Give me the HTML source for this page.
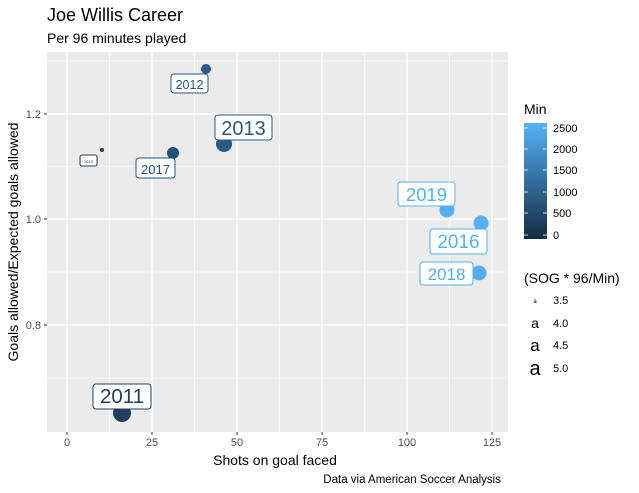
<!DOCTYPE html>
<html><head><style>body{margin:0;background:#fff}svg{display:block}text{font-family:"Liberation Sans",sans-serif}</style></head><body>
<svg width="639" height="493" xmlns="http://www.w3.org/2000/svg">
<rect width="639" height="493" fill="#fff"/>
<text x="47" y="21" font-size="18" fill="#000">Joe Willis Career</text>
<text x="47" y="43" font-size="14" fill="#000">Per 96 minutes played</text>
<rect x="47" y="52" width="461" height="380" fill="#EBEBEB"/>
<g stroke="#fff" stroke-width="0.6">
<line x1="109.5" y1="52" x2="109.5" y2="432"/><line x1="194.5" y1="52" x2="194.5" y2="432"/><line x1="279.5" y1="52" x2="279.5" y2="432"/><line x1="364.5" y1="52" x2="364.5" y2="432"/><line x1="449.5" y1="52" x2="449.5" y2="432"/>
<line x1="47" y1="61" x2="508" y2="61"/><line x1="47" y1="166.5" x2="508" y2="166.5"/><line x1="47" y1="272" x2="508" y2="272"/><line x1="47" y1="378" x2="508" y2="378"/>
</g>
<g stroke="#fff" stroke-width="1.2">
<line x1="67" y1="52" x2="67" y2="432"/><line x1="152" y1="52" x2="152" y2="432"/><line x1="237" y1="52" x2="237" y2="432"/><line x1="322" y1="52" x2="322" y2="432"/><line x1="407" y1="52" x2="407" y2="432"/><line x1="492" y1="52" x2="492" y2="432"/>
<line x1="47" y1="114" x2="508" y2="114"/><line x1="47" y1="219" x2="508" y2="219"/><line x1="47" y1="325" x2="508" y2="325"/>
</g>
<g stroke="#333" stroke-width="1">
<line x1="67" y1="432" x2="67" y2="435"/><line x1="152" y1="432" x2="152" y2="435"/><line x1="237" y1="432" x2="237" y2="435"/><line x1="322" y1="432" x2="322" y2="435"/><line x1="407" y1="432" x2="407" y2="435"/><line x1="492" y1="432" x2="492" y2="435"/>
<line x1="44" y1="114" x2="47" y2="114"/><line x1="44" y1="219" x2="47" y2="219"/><line x1="44" y1="325" x2="47" y2="325"/>
</g>
<g font-size="11" fill="#4D4D4D" text-anchor="middle">
<text x="67" y="446">0</text><text x="152" y="446">25</text><text x="237" y="446">50</text><text x="322" y="446">75</text><text x="407" y="446">100</text><text x="492" y="446">125</text>
</g>
<g font-size="11" fill="#4D4D4D" text-anchor="end">
<text x="41" y="118">1.2</text><text x="41" y="223">1.0</text><text x="41" y="329">0.8</text>
</g>
<text x="275" y="465" font-size="14" text-anchor="middle">Shots on goal faced</text>
<text transform="translate(18,242) rotate(-90)" font-size="14" text-anchor="middle">Goals allowed/Expected goals allowed</text>
<text x="501" y="483" font-size="11.5" text-anchor="end">Data via American Soccer Analysis</text>
<circle cx="206" cy="69" r="5" fill="#2A5A86"/>
<circle cx="224" cy="144" r="8" fill="#2A5A86"/>
<circle cx="102" cy="150" r="2" fill="#1F3F5E"/>
<circle cx="173" cy="153" r="6" fill="#25507A"/>
<circle cx="447" cy="210" r="7.5" fill="#56B0F4"/>
<circle cx="481" cy="223" r="7.5" fill="#56B0F4"/>
<circle cx="479" cy="273" r="7.5" fill="#54ADF0"/>
<circle cx="122" cy="413" r="9" fill="#1E3F5F"/>
<g fill="#fff" stroke-width="1">
<rect x="171" y="74" width="37" height="19" rx="3" stroke="#2A5A86"/>
<rect x="215" y="115" width="57" height="25" rx="3" stroke="#2A5A86"/>
<rect x="80" y="155" width="17" height="11" rx="2" stroke="#1F3F5E"/>
<rect x="136" y="158" width="39" height="20" rx="3" stroke="#25507A"/>
<rect x="398" y="182" width="57" height="24" rx="3" stroke="#56B0F4"/>
<rect x="430" y="229" width="57" height="25" rx="3" stroke="#56B0F4"/>
<rect x="420" y="262" width="53" height="23" rx="3" stroke="#54ADF0"/>
<rect x="93" y="384" width="58" height="25" rx="3" stroke="#1E3F5F"/>
</g>
<g text-anchor="middle">
<text x="189.5" y="89" font-size="12.5" fill="#2A5A86">2012</text>
<text x="243.5" y="135" font-size="20" fill="#2A5A86">2013</text>
<text x="88.5" y="163" font-size="4" fill="#1F3F5E">2015</text>
<text x="155.5" y="174" font-size="13" fill="#25507A">2017</text>
<text x="426.5" y="201" font-size="18.5" fill="#56B0F4">2019</text>
<text x="458.5" y="248" font-size="19" fill="#56B0F4">2016</text>
<text x="446.5" y="280" font-size="17" fill="#54ADF0">2018</text>
<text x="122" y="403" font-size="20.5" fill="#1E3F5F">2011</text>
</g>
<text x="524" y="114" font-size="14">Min</text>
<defs><linearGradient id="g" x1="0" y1="1" x2="0" y2="0"><stop offset="0" stop-color="#132B43"/><stop offset="1" stop-color="#56B1F7"/></linearGradient></defs>
<rect x="524" y="123" width="23" height="116" fill="url(#g)"/>
<g stroke="#fff" stroke-width="0.8">
<line x1="524" y1="128" x2="528" y2="128"/><line x1="543" y1="128" x2="547" y2="128"/>
<line x1="524" y1="149" x2="528" y2="149"/><line x1="543" y1="149" x2="547" y2="149"/>
<line x1="524" y1="170" x2="528" y2="170"/><line x1="543" y1="170" x2="547" y2="170"/>
<line x1="524" y1="192" x2="528" y2="192"/><line x1="543" y1="192" x2="547" y2="192"/>
<line x1="524" y1="213" x2="528" y2="213"/><line x1="543" y1="213" x2="547" y2="213"/>
<line x1="524" y1="235" x2="528" y2="235"/><line x1="543" y1="235" x2="547" y2="235"/>
</g>
<g font-size="11" fill="#000">
<text x="553" y="132">2500</text><text x="553" y="153">2000</text><text x="553" y="174">1500</text><text x="553" y="196">1000</text><text x="553" y="217">500</text><text x="553" y="239">0</text>
</g>
<text x="524" y="283" font-size="14">(SOG * 96/Min)</text>
<g text-anchor="middle" fill="#000">
<text x="535" y="303" font-size="6">a</text>
<text x="535" y="328" font-size="14">a</text>
<text x="535" y="351" font-size="17">a</text>
<text x="535" y="375" font-size="20">a</text>
</g>
<g font-size="11" fill="#000">
<text x="553" y="304">3.5</text><text x="553" y="327">4.0</text><text x="553" y="349">4.5</text><text x="553" y="372">5.0</text>
</g>
</svg>
</body></html>
